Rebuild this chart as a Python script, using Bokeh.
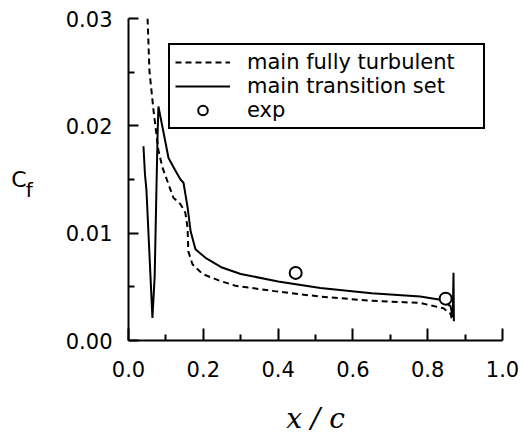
from bokeh.plotting import figure
from bokeh.models import (Range1d, FixedTicker, PrintfTickFormatter, Legend,
                          LegendItem, LinearAxis)
from bokeh.embed import file_html
from bokeh.resources import INLINE

# Skin friction coefficient along the main element
turb_x = [0.051, 0.056, 0.067, 0.080, 0.091, 0.120, 0.139, 0.152, 0.158, 0.160,
          0.171, 0.198, 0.241, 0.286, 0.390, 0.510, 0.650, 0.780, 0.842, 0.861,
          0.866]
turb_cf = [0.0300, 0.0251, 0.0214, 0.0177, 0.0161, 0.0133, 0.0127, 0.0119, 0.0105,
           0.0083, 0.0071, 0.0062, 0.0056, 0.0051, 0.0046, 0.0041, 0.0037, 0.0035,
           0.0030, 0.0025, 0.0018]

trans_x = [0.040, 0.044, 0.048, 0.064, 0.070, 0.075, 0.078, 0.080, 0.093, 0.107,
           0.126, 0.139, 0.147, 0.158, 0.166, 0.179, 0.206, 0.250, 0.300, 0.400,
           0.513, 0.650, 0.780, 0.834, 0.861, 0.867, 0.869, 0.870]
trans_cf = [0.0181, 0.0155, 0.0140, 0.0021, 0.0060, 0.0146, 0.0195, 0.0218, 0.0195,
            0.0170, 0.0158, 0.0150, 0.0147, 0.0124, 0.0102, 0.0085, 0.0077, 0.0068,
            0.0062, 0.0055, 0.0049, 0.0044, 0.0041, 0.0038, 0.0032, 0.0022, 0.0063,
            0.0018]

exp_x = [0.447, 0.848]
exp_cf = [0.0063, 0.0039]

x_ticks = [0.0, 0.2, 0.4, 0.6, 0.8, 1.0]
x_minor = [0.1, 0.3, 0.5, 0.7, 0.9]
y_ticks = [0.00, 0.01, 0.02, 0.03]
y_minor = [0.005, 0.015, 0.025]

FONT = "DejaVu Sans"

p = figure(width=520, height=442, x_range=Range1d(0, 1), y_range=Range1d(0, 0.03),
           output_backend="svg", toolbar_location=None,
           min_border_left=128, min_border_right=18, min_border_top=18,
           min_border_bottom=102)
p.outline_line_color = None
p.xgrid.visible = False
p.ygrid.visible = False
p.background_fill_color = "white"
p.border_fill_color = "white"

for ax in (p.xaxis[0], p.yaxis[0]):
    ax.axis_line_width = 2
    ax.axis_line_color = "black"
    ax.major_tick_line_width = 2
    ax.minor_tick_line_width = 2
    ax.major_tick_line_color = "black"
    ax.minor_tick_line_color = "black"
    ax.major_tick_out = 0
    ax.minor_tick_out = 0
    ax.major_label_text_font = FONT
    ax.major_label_text_font_size = "21px"
    ax.major_label_text_color = "black"
    ax.axis_label_text_color = "black"

xa = p.xaxis[0]
xa.ticker = FixedTicker(ticks=x_ticks, minor_ticks=x_minor)
xa.formatter = PrintfTickFormatter(format="%.1f")
xa.major_tick_in = 12
xa.minor_tick_in = 6
xa.major_label_standoff = 20
xa.axis_label = "x / c"
xa.axis_label_text_font = "DejaVu Serif"
xa.axis_label_text_font_style = "italic"
xa.axis_label_text_font_size = "28px"
xa.axis_label_standoff = 22

# Inner y axis carries the ticks and the lowered subscript "f" of the title
ya = p.yaxis[0]
ya.ticker = FixedTicker(ticks=y_ticks, minor_ticks=y_minor)
ya.formatter = PrintfTickFormatter(format="%.2f")
ya.major_tick_in = 10
ya.minor_tick_in = 6
ya.major_label_standoff = 16
ya.axis_label = "\nf"
ya.axis_label_orientation = "horizontal"
ya.axis_label_text_font = FONT
ya.axis_label_text_font_style = "normal"
ya.axis_label_text_font_size = "20px"
ya.axis_label_text_line_height = 0.9
ya.axis_label_standoff = 30

# Outer, bare y axis carries the letter "C" of the title
title_axis = LinearAxis(ticker=FixedTicker(ticks=[]), axis_line_color=None,
                        major_tick_line_color=None, minor_tick_line_color=None,
                        axis_label="C", axis_label_orientation="horizontal",
                        axis_label_text_font=FONT, axis_label_text_font_style="normal",
                        axis_label_text_font_size="22px",
                        axis_label_text_color="black",
                        axis_label_standoff=-4)
p.add_layout(title_axis, "left")

r_turb = p.line(turb_x, turb_cf, line_color="black", line_width=2, line_dash="6 4")
r_trans = p.line(trans_x, trans_cf, line_color="black", line_width=2)
r_exp = p.scatter(exp_x, exp_cf, marker="circle", size=12, line_color="black",
                  line_width=2, fill_color="white")

legend = Legend(items=[
    LegendItem(label="main fully turbulent", renderers=[r_turb]),
    LegendItem(label="main transition set", renderers=[r_trans]),
    LegendItem(label="exp", renderers=[r_exp]),
], location=(40, 211))
legend.border_line_color = "black"
legend.border_line_alpha = 1
legend.border_line_width = 2
legend.padding = 5
legend.spacing = 0
legend.margin = 0
legend.glyph_width = 55
legend.glyph_height = 24
legend.label_standoff = 17
legend.label_width = 231
legend.label_height = 20
legend.label_text_font = FONT
legend.label_text_font_size = "21px"
legend.label_text_color = "black"
legend.background_fill_alpha = 1
p.add_layout(legend)

open("out.html", "w").write(file_html(p, INLINE))
